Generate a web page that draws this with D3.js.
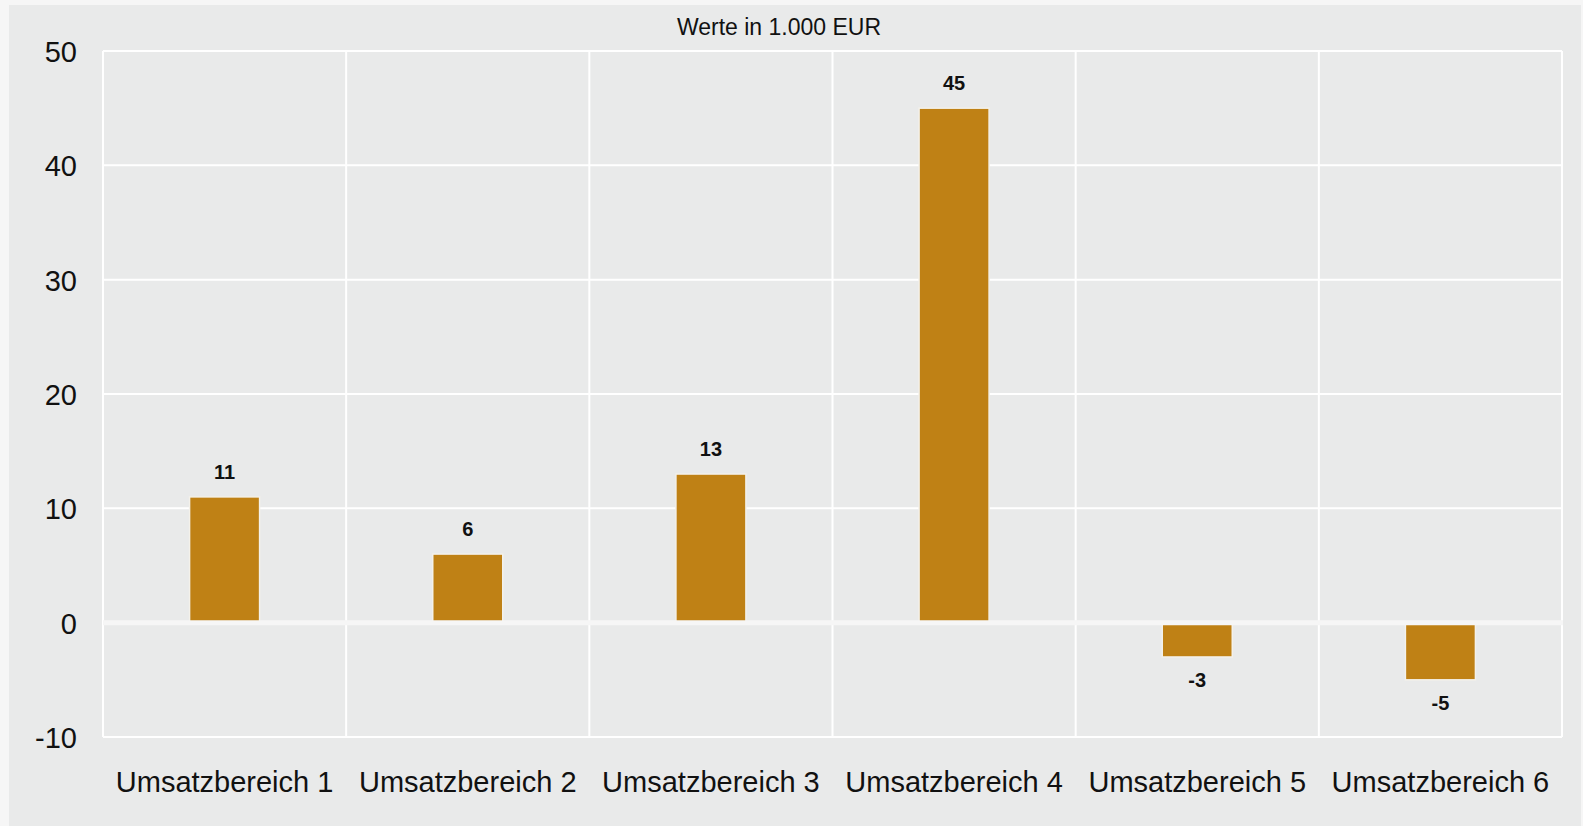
<!DOCTYPE html>
<meta charset="utf-8">
<style>
body { margin: 0; background: #f6f6f6; font-family: "Liberation Sans", Arial, sans-serif; }
.grid line { stroke: #fff; stroke-width: 2; }
.bar { fill: #bf8115; stroke: #f4f1ea; stroke-width: 1.5; }
.val { font-weight: bold; font-size: 20px; fill: #111; text-anchor: middle; }
.tick text { font-size: 29px; fill: #111; }
</style>
<body>
<svg width="1583" height="826"></svg>
<script src="https://cdn.jsdelivr.net/npm/d3@7"></script>
<script>

var categories = ["Umsatzbereich 1", "Umsatzbereich 2", "Umsatzbereich 3", "Umsatzbereich 4", "Umsatzbereich 5", "Umsatzbereich 6"];
var values = [11, 6, 13, 45, -3, -5];
var yTicks = [-10, 0, 10, 20, 30, 40, 50];
var title = "Werte in 1.000 EUR";

var svg = d3.select("svg");

var margin = {left: 103, right: 1562, top: 51, bottom: 737};

svg.append("rect")
    .attr("x", 9).attr("y", 5)
    .attr("width", 1572).attr("height", 821)
    .attr("fill", "#e9eaea");

var x = d3.scaleBand()
    .domain(categories)
    .range([margin.left, margin.right])
    .paddingInner(0)
    .paddingOuter(0);

var y = d3.scaleLinear()
    .domain([-10, 50])
    .range([margin.bottom, margin.top]);

// grid
var grid = svg.append("g").attr("class", "grid");

grid.selectAll(".h")
  .data(yTicks.filter(function(d) { return d !== 0; }))
  .enter().append("line")
    .attr("x1", margin.left).attr("x2", margin.right)
    .attr("y1", function(d) { return y(d); })
    .attr("y2", function(d) { return y(d); });

var bounds = categories.map(function(c) { return x(c); }).concat([margin.right]);
grid.selectAll(".v")
  .data(bounds)
  .enter().append("line")
    .attr("x1", function(d) { return d; })
    .attr("x2", function(d) { return d; })
    .attr("y1", margin.top).attr("y2", margin.bottom);

// bars
var bw = 70;
svg.selectAll(".bar")
  .data(values)
  .enter().append("rect")
    .attr("class", "bar")
    .attr("x", function(d, i) { return x(categories[i]) + x.bandwidth() / 2 - bw / 2; })
    .attr("width", bw)
    .attr("y", function(d) { return y(Math.max(d, 0)); })
    .attr("height", function(d) { return Math.abs(y(d) - y(0)); });

// zero line
svg.append("line")
    .attr("x1", margin.left).attr("x2", margin.right + 1)
    .attr("y1", y(0)).attr("y2", y(0))
    .attr("stroke", "#f6f6f6")
    .attr("stroke-width", 5);

// value labels
svg.selectAll(".val")
  .data(values)
  .enter().append("text")
    .attr("class", "val")
    .attr("x", function(d, i) { return x(categories[i]) + x.bandwidth() / 2; })
    .attr("y", function(d) { return d >= 0 ? y(d) - 18 : y(d) + 30; })
    .text(function(d) { return d; });

// axes
svg.append("g")
    .attr("transform", "translate(" + (margin.left - 26) + ",0)")
    .call(d3.axisLeft(y).tickValues(yTicks).tickSize(0).tickPadding(0)
      .tickFormat(function(d) { return String(d); }))
    .call(function(g) { g.select(".domain").remove(); })
    .selectAll("text").attr("dy", "0.36em");

svg.append("g")
    .attr("transform", "translate(0," + (margin.bottom + 34) + ")")
    .call(d3.axisBottom(x).tickSize(0).tickPadding(0))
    .call(function(g) { g.select(".domain").remove(); })
    .selectAll("text").attr("dy", "0.71em");

svg.append("text")
    .attr("x", 779)
    .attr("y", 35)
    .attr("text-anchor", "middle")
    .attr("font-size", 23)
    .attr("fill", "#111")
    .text(title);

</script>
</body>
